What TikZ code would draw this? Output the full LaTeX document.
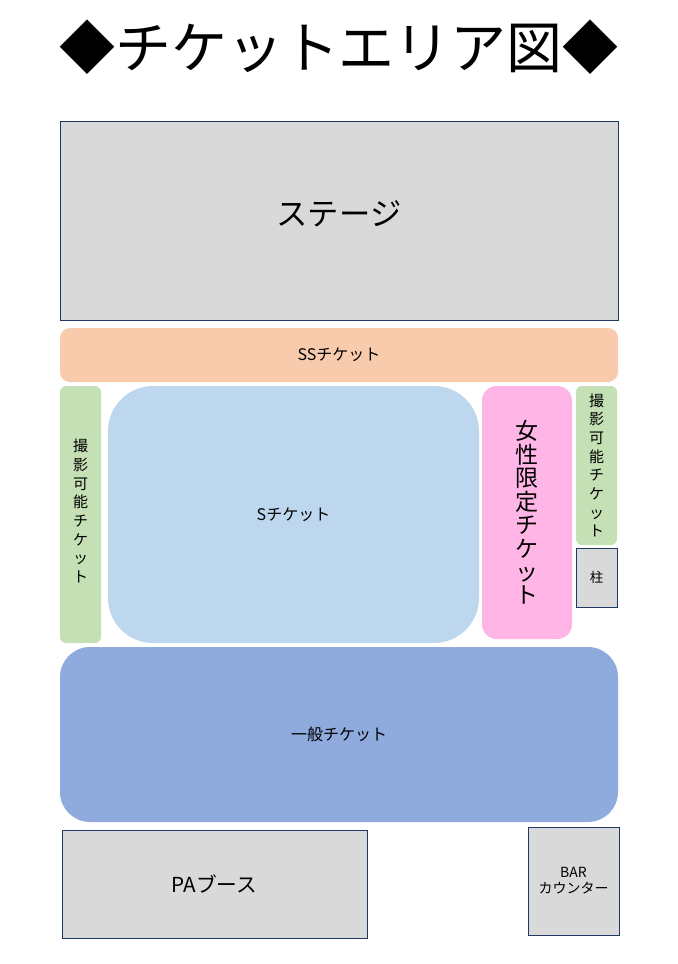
\documentclass[tikz,border=0pt]{standalone}
\usepackage{fontspec}
\setmainfont{Noto Sans CJK JP}
\definecolor{AreaGray}{HTML}{D9D9D9}
\definecolor{AreaNavy}{HTML}{1F3864}
\definecolor{AreaSS}{HTML}{F8CBAD}
\definecolor{AreaPhoto}{HTML}{C5E0B4}
\definecolor{AreaS}{HTML}{BDD7EE}
\definecolor{AreaLady}{HTML}{FFB5E5}
\definecolor{AreaGeneral}{HTML}{8FAADC}
\begin{document}
\begin{tikzpicture}[x=0.75pt,y=-0.75pt,
    fixed/.style={draw=AreaNavy,line width=0.6pt,fill=AreaGray,inner sep=0pt},
    zone/.style={inner sep=0pt,align=center}]
    \useasboundingbox (0,0) rectangle (678,964);
    \node at (339,47) (title) {\fontsize{42}{48}\selectfont ◆チケットエリア図◆};
    \node[fixed,minimum width=418.5pt,minimum height=149.25pt] at (339,220.5) (stage) {};
    \node[font=\fontsize{23.5}{28}\selectfont] at (339,214) {ステージ};
    \node[zone,fill=AreaSS,rounded corners=7.5pt,minimum width=418.5pt,minimum height=40.5pt,font=\fontsize{12}{14}\selectfont] at (339,355) (ss) {SSチケット};
    \node[zone,fill=AreaPhoto,rounded corners=4.5pt,minimum width=30.75pt,minimum height=192.75pt] at (80.5,514.5) (photoL) {};
    \node[align=center,font=\fontsize{11.25}{14}\selectfont] at (80.5,511) {撮\\影\\可\\能\\チ\\ケ\\ッ\\ト};
    \node[zone,fill=AreaS,rounded corners=33.75pt,minimum width=278.25pt,minimum height=192.75pt,font=\fontsize{12}{14}\selectfont] at (293.5,514.5) (s) {Sチケット};
    \node[zone,fill=AreaLady,rounded corners=11pt,minimum width=67.5pt,minimum height=189.75pt,font=\fontsize{17.25}{17.6}\selectfont] at (527,512.5) (lady) {女\\性\\限\\定\\チ\\ケ\\ッ\\ト};
    \node[zone,fill=AreaPhoto,rounded corners=4.5pt,minimum width=30.75pt,minimum height=119.25pt,font=\fontsize{11.25}{14}\selectfont] at (596.5,465.5) (photoR) {撮\\影\\可\\能\\チ\\ケ\\ッ\\ト};
    \node[fixed,minimum width=30.75pt,minimum height=44.25pt,font=\fontsize{10}{12}\selectfont] at (596.5,577.5) (pillar) {柱};
    \node[zone,fill=AreaGeneral,rounded corners=22.5pt,minimum width=418.5pt,minimum height=131.25pt,font=\fontsize{12}{14}\selectfont] at (339,734.5) (general) {一般チケット};
    \node[fixed,minimum width=228.75pt,minimum height=81pt,font=\fontsize{15.5}{18}\selectfont] at (214.5,884) (pa) {PAブース};
    \node[fixed,minimum width=68.25pt,minimum height=81pt,align=center,font=\fontsize{10.5}{12}\selectfont] at (573.5,881) (bar) {BAR\\カウンター};
\end{tikzpicture}
\end{document}
